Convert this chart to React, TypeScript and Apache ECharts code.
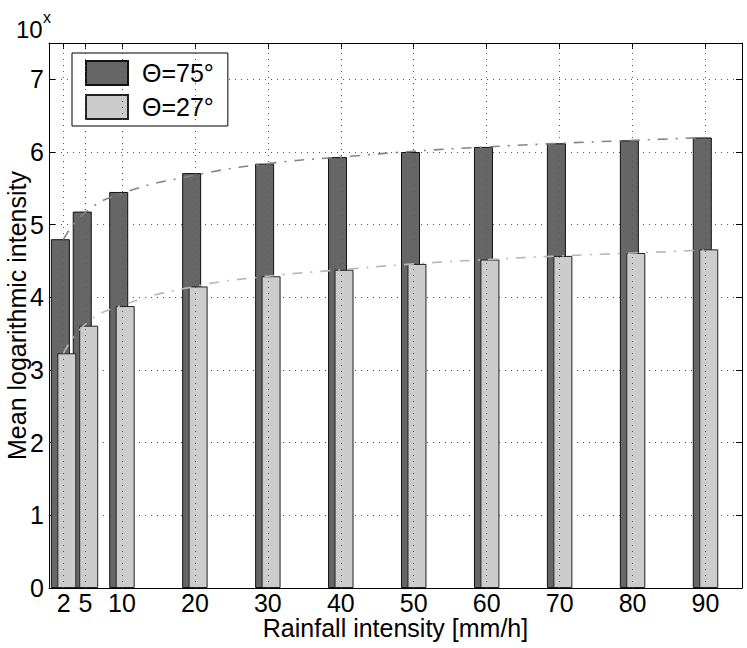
import React, { useEffect, useRef } from "react";
import * as echarts from "echarts";

const rainfall = [2, 5, 10, 20, 30, 40, 50, 60, 70, 80, 90];
const theta75 = [4.8, 5.18, 5.45, 5.71, 5.84, 5.93, 6.0, 6.07, 6.12, 6.16, 6.2];
const theta27 = [3.23, 3.61, 3.88, 4.15, 4.29, 4.38, 4.46, 4.52, 4.57, 4.61, 4.66];
const fitX = [2, 5, 10, 20, 30, 40, 50, 60, 70, 80, 90];
const fit75 = [4.8, 5.17, 5.43, 5.68, 5.84, 5.93, 6.01, 6.07, 6.12, 6.16, 6.2];
const fit27 = [3.23, 3.63, 3.89, 4.15, 4.29, 4.38, 4.46, 4.52, 4.57, 4.61, 4.65];
const xTickValues = [2, 5, 10, 20, 30, 40, 50, 60, 70, 80, 90];
const yTickValues = [0, 1, 2, 3, 4, 5, 6, 7];
const seriesNames = ["\u0398=75\u00b0", "\u0398=27\u00b0"];

const FONT = "'Liberation Sans', Arial, Helvetica, sans-serif";
const FS = 25;

export default function App() {
  const ref = useRef<HTMLDivElement>(null);
  useEffect(() => {
    if (!ref.current) return;
    const chart = echarts.init(ref.current, undefined, { renderer: "svg" });
    const dotted = { color: "#555", width: 1, type: [1, 5] as any };
    const option: any = {
      animation: false,
      backgroundColor: "#fff",
      textStyle: { fontFamily: FONT },
      grid: { left: 49, right: 5, top: 43, bottom: 60, containLabel: false, outerBoundsMode: "none" },
      legend: {
        left: 72,
        top: 53,
        orient: "vertical",
        padding: [7, 14, 6, 13],
        itemGap: 8,
        itemWidth: 42,
        itemHeight: 24,
        borderColor: "#000",
        borderWidth: 1,
        backgroundColor: "#fff",
        borderRadius: 0,
        textStyle: { fontSize: FS, fontFamily: FONT, color: "#000", padding: [0, 0, 0, 9] },
        data: seriesNames.map((n) => ({ name: n, icon: "rect" })),
      },
      graphic: [
        { type: "text", x: 16, y: 17, style: { text: "10", fontSize: 24, fontFamily: FONT, fill: "#000", verticalAlign: "top" } },
        { type: "text", x: 43, y: 9, style: { text: "x", fontSize: 16, fontFamily: FONT, fill: "#000", verticalAlign: "top" } },
      ],
      xAxis: [
        {
          type: "value",
          min: 0,
          max: 95,
          position: "bottom",
          name: "Rainfall intensity [mm/h]",
          nameLocation: "middle",
          nameGap: 30,
          nameMoveOverlap: false,
          nameTextStyle: { fontSize: FS, lineHeight: 20, color: "#000", fontFamily: FONT },
          axisLine: { show: true, onZero: false, lineStyle: { color: "#000", width: 1 } },
          axisTick: { show: true, inside: true, length: 6, customValues: xTickValues, lineStyle: { color: "#000" } },
          axisLabel: { show: true, customValues: xTickValues, fontSize: FS, lineHeight: 18, color: "#000", margin: 6, fontFamily: FONT },
          splitLine: { show: false },
        },
        {
          type: "value",
          min: 0,
          max: 95,
          position: "top",
          axisLine: { show: true, onZero: false, lineStyle: { color: "#000", width: 1 } },
          axisTick: { show: true, inside: true, length: 6, customValues: xTickValues, lineStyle: { color: "#000" } },
          axisLabel: { show: false },
          splitLine: { show: false },
        },
      ],
      yAxis: [
        {
          type: "value",
          min: 0,
          max: 7.5,
          interval: 1,
          position: "left",
          name: "Mean logarithmic intensity",
          nameLocation: "middle",
          nameGap: 20,
          nameMoveOverlap: false,
          nameTextStyle: { fontSize: FS, color: "#000", fontFamily: FONT },
          axisLine: { show: true, onZero: false, lineStyle: { color: "#000", width: 1 } },
          axisTick: { show: true, inside: true, length: 6, customValues: yTickValues, lineStyle: { color: "#000" } },
          axisLabel: { show: true, customValues: yTickValues, fontSize: FS, color: "#000", margin: 5, fontFamily: FONT },
          splitLine: { show: true, lineStyle: dotted },
        },
        {
          type: "value",
          min: 0,
          max: 7.5,
          interval: 1,
          position: "right",
          axisLine: { show: true, onZero: false, lineStyle: { color: "#000", width: 1 } },
          axisTick: { show: true, inside: true, length: 6, customValues: yTickValues, lineStyle: { color: "#000" } },
          axisLabel: { show: false },
          splitLine: { show: false },
        },
      ],
      series: [
        {
          name: "xgrid",
          type: "line",
          xAxisIndex: 0,
          yAxisIndex: 0,
          z: 1,
          silent: true,
          data: [],
          markLine: {
            silent: true,
            symbol: "none",
            label: { show: false },
            lineStyle: dotted,
            emphasis: { disabled: true },
            data: xTickValues.map((v) => ({ xAxis: v })),
          },
        },
        {
          name: seriesNames[0],
          type: "bar",
          xAxisIndex: 0,
          yAxisIndex: 0,
          barWidth: 19,
          barGap: "-66%",
          z: 2,
          itemStyle: { color: "#666666", borderColor: "#111", borderWidth: 1 },
          data: rainfall.map((r, i) => [r, theta75[i]]),
        },
        {
          name: seriesNames[1],
          type: "bar",
          xAxisIndex: 0,
          yAxisIndex: 0,
          barWidth: 19,
          barGap: "-66%",
          z: 2,
          itemStyle: { color: "#cccccc", borderColor: "#222", borderWidth: 1 },
          data: rainfall.map((r, i) => [r, theta27[i]]),
        },
        {
          name: "fit75",
          type: "line",
          xAxisIndex: 0,
          yAxisIndex: 0,
          smooth: 0.5,
          showSymbol: false,
          symbol: "none",
          z: 5,
          lineStyle: { color: "#858585", width: 1.6, type: [10, 8, 2, 8] },
          data: fitX.map((r, i) => [r, fit75[i]]),
        },
        {
          name: "fit27",
          type: "line",
          xAxisIndex: 0,
          yAxisIndex: 0,
          smooth: 0.5,
          showSymbol: false,
          symbol: "none",
          z: 5,
          lineStyle: { color: "#b8b8b8", width: 1.6, type: [10, 8, 2, 8] },
          data: fitX.map((r, i) => [r, fit27[i]]),
        },
      ],
    };
    chart.setOption(option);
    return () => chart.dispose();
  }, []);
  return (
    <div
      ref={ref}
      style={{ position: "absolute", left: 0, top: 0, width: 747, height: 648, background: "#fff" }}
    />
  );
}
